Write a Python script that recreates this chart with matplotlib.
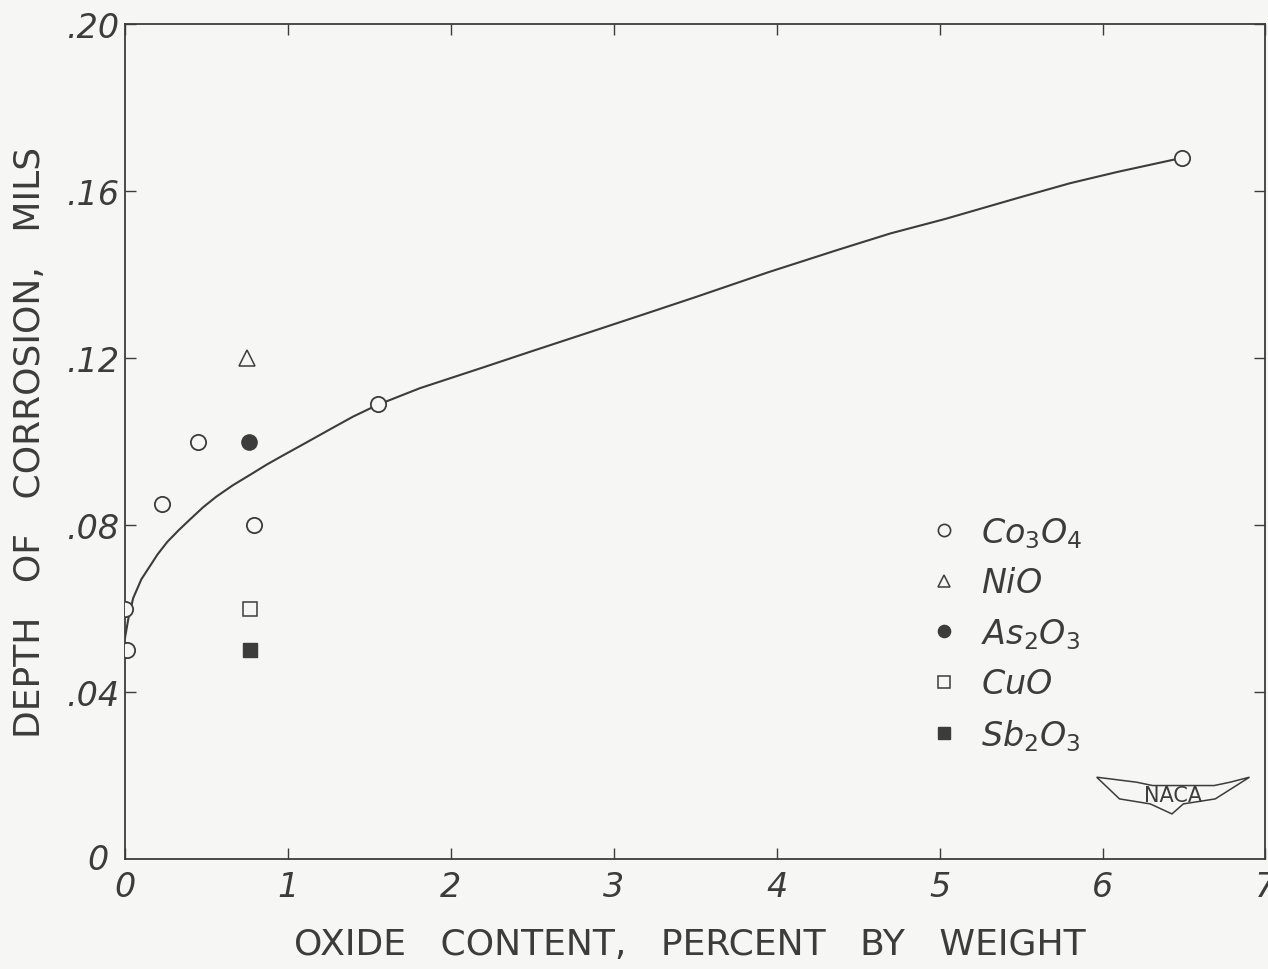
import matplotlib.pyplot as plt
from matplotlib.lines import Line2D
from matplotlib.patches import Polygon

# fitted curve
curve_x = [0.0, 0.02, 0.05, 0.10, 0.15, 0.20, 0.26, 0.33, 0.40, 0.48, 0.56,
           0.66, 0.77, 0.87, 0.97, 1.1, 1.27, 1.4, 1.55, 1.81, 2.2, 2.5, 2.89,
           3.2, 3.5, 3.95, 4.38, 4.7, 5.03, 5.5, 5.8, 6.09, 6.49]
curve_y = [0.053, 0.0575, 0.0625, 0.067, 0.070, 0.073, 0.076, 0.0788, 0.0814,
           0.0843, 0.0868, 0.0895, 0.0921, 0.0945, 0.0967, 0.0995, 0.1032,
           0.1060, 0.1088, 0.1128, 0.1178, 0.1217, 0.1267, 0.1307, 0.1346,
           0.1406, 0.1460, 0.1499, 0.1533, 0.1586, 0.1619, 0.1646, 0.168]

# measured points per oxide
co3o4_x = [0.0, 0.01, 0.23, 0.45, 0.79, 1.55, 6.49]
co3o4_y = [0.060, 0.050, 0.085, 0.100, 0.080, 0.109, 0.168]
nio_x, nio_y = [0.75], [0.120]
as2o3_x, as2o3_y = [0.76], [0.100]
cuo_x, cuo_y = [0.77], [0.060]
sb2o3_x, sb2o3_y = [0.77], [0.050]

xticks = [0, 1, 2, 3, 4, 5, 6, 7]
xtick_labels = ['0', '1', '2', '3', '4', '5', '6', '7']
yticks = [0.04, 0.08, 0.12, 0.16, 0.20]
ytick_labels = ['.04', '.08', '.12', '.16', '.20']

ink = '#3c3c3c'
paper = '#f6f6f4'
plt.rcParams['mathtext.fontset'] = 'dejavusans'

fig = plt.figure(figsize=(12.68, 9.70), dpi=100, facecolor=paper)
ax = fig.add_axes([0.0986, 0.1134, 0.8994, 0.8606], facecolor=paper)

ax.plot(curve_x, curve_y, color=ink, lw=1.5, zorder=2)

ms = 11
ax.plot(co3o4_x, co3o4_y, 'o', ms=ms, mfc=paper, mec=ink, mew=1.3, zorder=3)
ax.plot(nio_x, nio_y, '^', ms=ms, mfc=paper, mec=ink, mew=1.1, zorder=3)
ax.plot(as2o3_x, as2o3_y, 'o', ms=ms, mfc=ink, mec=ink, zorder=3)
ax.plot(cuo_x, cuo_y, 's', ms=10, mfc=paper, mec=ink, mew=1.1, zorder=3)
ax.plot(sb2o3_x, sb2o3_y, 's', ms=10, mfc=ink, mec=ink, zorder=3)

ax.set_xlim(0, 7)
ax.set_ylim(0, 0.20)
ax.set_xticks(xticks)
ax.set_xticklabels(xtick_labels, fontstyle='italic', fontsize=24, color=ink)
ax.set_yticks(yticks)
ax.set_yticklabels(ytick_labels, fontstyle='italic', fontsize=24, color=ink)
ax.tick_params(direction='in', length=8, width=1, color=ink, top=True, right=True)
ax.tick_params(axis='x', pad=8)
ax.tick_params(axis='y', pad=4)
for s in ax.spines.values():
    s.set_color(ink)
    s.set_linewidth(1.3)

ax.text(-0.1, 0.0, '0', fontsize=24, fontstyle='italic', color=ink,
        ha='right', va='center')

ax.set_xlabel('OXIDE   CONTENT,   PERCENT   BY   WEIGHT', fontsize=26, color=ink)
ax.xaxis.set_label_coords(0.495, -0.081)
ax.set_ylabel('DEPTH   OF   CORROSION,   MILS', fontsize=26, color=ink)
ax.yaxis.set_label_coords(-0.068, 0.5)

handles = [
    Line2D([], [], ls='', marker='o', ms=ms, mfc=paper, mec=ink, mew=1.2),
    Line2D([], [], ls='', marker='^', ms=ms, mfc=paper, mec=ink, mew=1.1),
    Line2D([], [], ls='', marker='o', ms=ms, mfc=ink, mec=ink),
    Line2D([], [], ls='', marker='s', ms=10, mfc=paper, mec=ink, mew=1.1),
    Line2D([], [], ls='', marker='s', ms=10, mfc=ink, mec=ink),
]
labels = [r'$Co_3O_4$', r'$NiO$', r'$As_2O_3$', r'$CuO$', r'$Sb_2O_3$']
leg = ax.legend(handles, labels, loc='upper left', bbox_to_anchor=(0.68, 0.448),
                frameon=False, fontsize=24, markerscale=0.8, handlelength=0.8,
                handletextpad=0.7, labelspacing=0.5)
for t in leg.get_texts():
    t.set_color(ink)

# NACA wing badge
wing = Polygon([[0.852, 0.098], [0.887, 0.092], [0.901, 0.088], [0.955, 0.088],
                [0.969, 0.092], [0.986, 0.098], [0.956, 0.072], [0.928, 0.066],
                [0.918, 0.054], [0.899, 0.066], [0.872, 0.072]],
               closed=True, transform=ax.transAxes, fill=False, edgecolor=ink, lw=1.1)
ax.add_patch(wing)
ax.text(0.919, 0.077, 'NACA', transform=ax.transAxes, fontsize=15, color=ink,
        ha='center', va='center')

fig.savefig('out.png', dpi=100, facecolor=paper)
